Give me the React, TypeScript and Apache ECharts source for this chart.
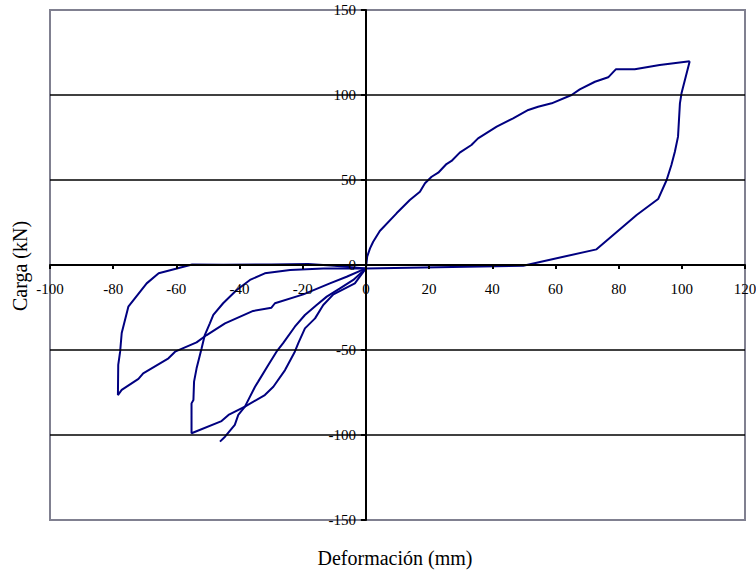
import React, { useEffect, useRef } from "react";
import * as echarts from "echarts";

// Hysteresis branches: [deformation mm, load kN]
const positiveLoading: number[][] = [
  [0, -2], [0.4, 4.9], [1.3, 9.8], [2.3, 13.7], [4.4, 20], [9.7, 30.4], [13.9, 38.2],
  [17.1, 43.1], [18.7, 48.1], [20.8, 51.9], [22.9, 54.3], [25.5, 59.4], [27.1, 61.2],
  [29.7, 66.1], [33.4, 70.6], [35.5, 74.5], [41.4, 81.4], [46.6, 86.3], [51.4, 91.2],
  [54.5, 93.1], [58.8, 95.1], [65.1, 100], [67.7, 103.3], [72.5, 107.8], [76.7, 110.4],
  [79.1, 115.1], [85.1, 115.1], [93, 117.6], [102.5, 119.8],
];
const positiveUnloading: number[][] = [
  [102.5, 119.8], [99.9, 101], [99.4, 95.1], [98.8, 75.5], [97.8, 66.6], [96.7, 58.8],
  [95.2, 50], [92.5, 38.8], [85.7, 29.4], [73, 9.2], [49.8, -0.4], [0, -2],
];
const negativeLoop1: number[][] = [
  [0, -2], [-10, -0.5], [-18.3, 0.6], [-30, 0.3], [-45, 0.2], [-55, 0.3], [-65.6, -4.9],
  [-69.4, -10.8], [-75.2, -24.5], [-77.3, -40], [-77.8, -51], [-78.4, -58.8], [-78.5, -76.5],
  [-77.3, -73.5], [-72, -67], [-70.5, -63.7], [-62.5, -54.9], [-60.4, -51], [-53.6, -45.5],
  [-50.4, -41.2], [-44.6, -34.3], [-35.7, -27], [-29.9, -25.1], [-28.8, -22.5],
  [-19.8, -17.3], [-11.4, -10.8], [-6.1, -6.9], [0, -2],
];
const negativeLoop2: number[][] = [
  [0, -2], [-13.5, -2], [-24, -2.9], [-32, -4.9], [-36.7, -8.8], [-40.9, -14.7],
  [-45.2, -22.5], [-48.3, -29.4], [-49.4, -34.3], [-51, -41.2], [-52, -49], [-53.6, -60.8],
  [-54.4, -68.6], [-54.6, -79.4], [-55.2, -81.4], [-55.2, -99], [-45.7, -91.8],
  [-43.5, -88.2], [-38.3, -83.3], [-32, -76.5], [-29.3, -71.6], [-25.6, -61.8],
  [-22.5, -51], [-21.4, -46], [-19.3, -37.3], [-16.1, -31.4], [-13.5, -23.5],
  [-10.3, -17.3], [-3.5, -10.8], [0, -2],
];
const negativeLoop3: number[][] = [
  [0, -2], [-4, -8.8], [-8.2, -13.7], [-12.4, -18.6], [-15.6, -23.5], [-19.3, -29.4],
  [-22.5, -36.3], [-26.2, -46], [-28.3, -51], [-30.9, -58.8], [-34.1, -68.6],
  [-35.1, -71.6], [-38.3, -83.3], [-40.4, -88.2], [-41.5, -94], [-44.6, -101],
  [-46.2, -103.9],
];

const xTitle = "Deformación (mm)";
const yTitle = "Carga (kN)";
const branches = [positiveLoading, positiveUnloading, negativeLoop1, negativeLoop2, negativeLoop3];

const FONT = '"Liberation Serif", "Times New Roman", serif';
const LINE = "#000080";

const W = 756;
const H = 571;
const G = { left: 50, right: 11, top: 10, bottom: 51 };
const X_MIN = -100;
const X_MAX = 120;
const Y_MIN = -150;
const Y_MAX = 150;

export default function App() {
  const ref = useRef<HTMLDivElement>(null);
  useEffect(() => {
    if (!ref.current) return;
    const chart = echarts.init(ref.current, undefined, { renderer: "svg" });
    const gw = W - G.left - G.right;
    const gh = H - G.top - G.bottom;
    // distance from grid edges to the zero lines, so the axes cross at the origin
    const xAxisOffset = -gh * (0 - Y_MIN) / (Y_MAX - Y_MIN);
    const yAxisOffset = -gw * (0 - X_MIN) / (X_MAX - X_MIN);
    chart.setOption({
      animation: false,
      backgroundColor: "#ffffff",
      grid: {
        ...G,
        containLabel: false,
        outerBoundsMode: "none",
        show: true,
        borderColor: "#808090",
        borderWidth: 2,
        backgroundColor: "transparent",
      },
      xAxis: {
        type: "value",
        min: X_MIN,
        max: X_MAX,
        interval: 20,
        position: "bottom",
        offset: xAxisOffset,
        axisLine: { onZero: false, lineStyle: { color: "#000", width: 2 } },
        axisTick: { show: true, length: 4, lineStyle: { color: "#000", width: 2 } },
        axisLabel: {
          margin: 16,
          color: "#000",
          fontFamily: FONT,
          fontSize: 15,
          showMinLabel: true,
          showMaxLabel: true,
          hideOverlap: false,
        },
        splitLine: { show: false },
        z: 4,
      },
      yAxis: {
        type: "value",
        min: Y_MIN,
        max: Y_MAX,
        interval: 50,
        position: "left",
        offset: yAxisOffset,
        axisLine: { onZero: false, lineStyle: { color: "#000", width: 2 } },
        axisTick: { show: true, length: 5, lineStyle: { color: "#000", width: 2 } },
        axisLabel: {
          margin: 10,
          color: "#000",
          fontFamily: FONT,
          fontSize: 15,
          showMinLabel: true,
          showMaxLabel: true,
          hideOverlap: false,
        },
        splitLine: {
          show: true,
          showMinLine: false,
          showMaxLine: false,
          lineStyle: { color: "#000", width: 1.5 },
        },
        z: 4,
      },
      series: branches.map((d) => ({
        type: "line",
        data: d,
        showSymbol: false,
        symbol: "none",
        lineStyle: { color: LINE, width: 2 },
        z: 3,
      })),
      graphic: [
        {
          type: "text",
          x: 395,
          y: 558,
          style: {
            text: xTitle,
            fontFamily: FONT,
            fontSize: 20,
            fill: "#000",
            align: "center",
            verticalAlign: "middle",
          },
        },
        {
          type: "text",
          x: 20,
          y: 266,
          rotation: Math.PI / 2,
          style: {
            text: yTitle,
            fontFamily: FONT,
            fontSize: 20,
            fill: "#000",
            align: "center",
            verticalAlign: "middle",
          },
        },
      ],
    });
    return () => chart.dispose();
  }, []);
  return (
    <div
      ref={ref}
      style={{ position: "fixed", left: 0, top: 0, width: W, height: H, background: "#fff" }}
    />
  );
}
